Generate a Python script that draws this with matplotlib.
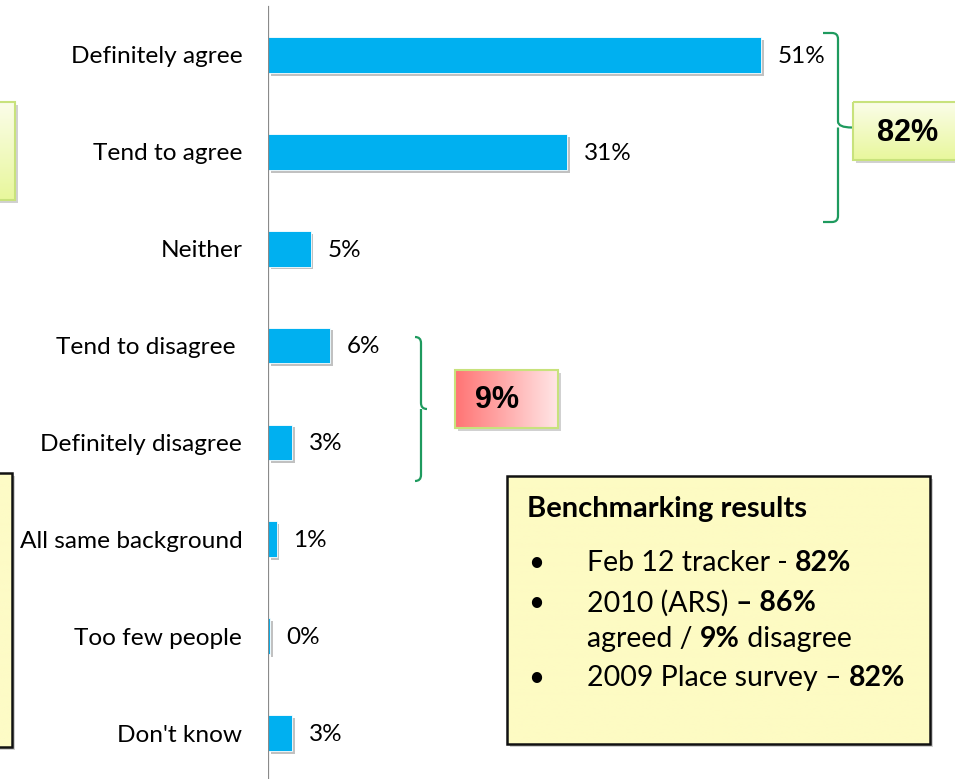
import matplotlib
matplotlib.use("Agg")
import matplotlib.pyplot as plt
import matplotlib.patheffects as pe
from matplotlib.patches import Rectangle, PathPatch
from matplotlib.path import Path
import numpy as np

categories = ["Definitely agree", "Tend to agree", "Neither", "Tend to disagree ",
              "Definitely disagree", "All same background", "Too few people", "Don't know"]
values = [51.0, 30.9, 4.4, 6.4, 2.5, 0.9, 0.2, 2.5]
value_labels = ["51%", "31%", "5%", "6%", "3%", "1%", "0%", "3%"]

agree_total = "82%"
disagree_total = "9%"
bench_title = "Benchmarking results"
bench_lines = [
    [("•", None), ("Feb 12 tracker - ", "normal"), ("82%", "bold")],
    [("•", None), ("2010 (ARS) ", "normal"), ("– 86%", "bold")],
    [(None, None), ("agreed / ", "normal"), ("9%", "bold"), (" disagree", "normal")],
    [("•", None), ("2009 Place survey – ", "normal"), ("82%", "bold")],
]

FONT = "Lato"
BAR = "#00b0f0"
GREEN = "#1e9a5e"

W, H = 955, 779
fig = plt.figure(figsize=(W / 100, H / 100), dpi=100)

# bar chart
ax = fig.add_axes([268 / W, 0, 1 - 268 / W, 1])
y = np.arange(len(categories))
bars = ax.barh(y, values, height=0.37, color=BAR, edgecolor="white", linewidth=0.6)
for b in bars:
    b.set_path_effects([pe.SimplePatchShadow(offset=(2, -2), shadow_rgbFace="#777777", alpha=0.45),
                        pe.Normal()])
ax.set_xlim(0, 71.0)
ax.set_ylim(7.474, -0.567)
ax.set_yticks(y)
ax.set_yticklabels(categories, fontsize=17.6, family=FONT)
ax.tick_params(axis="y", length=0, pad=18.5)
ax.set_xticks([])
for s in ax.spines.values():
    s.set_visible(False)
ax.axvline(0, ymin=0, ymax=(H - 7) / H, color="#8a8a8a", lw=1.6)
for i, (v, lab) in enumerate(zip(values, value_labels)):
    ax.annotate(lab, (v, i), xytext=(12, -1), textcoords="offset points",
                va="center", ha="left", fontsize=17.5, family=FONT)

# overlay in pixel coordinates for the callouts
ov = fig.add_axes([0, 0, 1, 1], zorder=5)
ov.set_xlim(0, W)
ov.set_ylim(H, 0)
ov.axis("off")
ov.patch.set_alpha(0)


def brace(x0, x1, ytop, ybot, tip):
    ym = (ytop + ybot) / 2
    r = 6
    verts = [(x0, ytop), (x1 - r, ytop), (x1, ytop), (x1, ytop + r),
             (x1, ym - r), (x1, ym), (tip, ym),
             (x1, ym), (x1, ym + r),
             (x1, ybot - r), (x1, ybot), (x1 - r, ybot), (x0, ybot)]
    codes = [Path.MOVETO, Path.LINETO, Path.CURVE3, Path.CURVE3,
             Path.LINETO, Path.CURVE3, Path.CURVE3,
             Path.MOVETO, Path.CURVE3,
             Path.LINETO, Path.CURVE3, Path.CURVE3, Path.LINETO]
    ov.add_patch(PathPatch(Path(verts, codes), fill=False, edgecolor=GREEN, lw=1.6))


def gradient_box(x0, y0, w, h, c0, c1, direction, edge, lw=1.5, shadow=True):
    if shadow:
        ov.add_patch(Rectangle((x0 + 3, y0 + 3), w, h, facecolor="#000000", alpha=0.18,
                               edgecolor="none", zorder=1))
    c0 = np.array(matplotlib.colors.to_rgb(c0))
    c1 = np.array(matplotlib.colors.to_rgb(c1))
    t = np.linspace(0, 1, 100)
    grad = c0[None, :] * (1 - t[:, None]) + c1[None, :] * t[:, None]
    if direction == "h":
        img = grad[None, :, :]
    else:
        img = grad[:, None, :]
    ov.imshow(img, extent=(x0, x0 + w, y0 + h, y0), aspect="auto", zorder=2,
              interpolation="bilinear")
    ov.add_patch(Rectangle((x0, y0), w, h, facecolor="none", edgecolor=edge, lw=lw, zorder=3))


brace(823, 838, 33, 222, 852)
brace(415, 421, 337, 481, 427)

gradient_box(853, 102, 110, 58, "#fbfde9", "#e8f79c", "v", "#c8e27c")
ov.text(908, 133, agree_total, ha="center", va="center", fontsize=22,
        fontweight="bold", family="Liberation Sans", zorder=4)

gradient_box(455, 370, 103, 58, "#ff7474", "#ffe6e6", "h", "#c8e27c")
ov.text(497, 400, disagree_total, ha="center", va="center", fontsize=22,
        fontweight="bold", family="Liberation Sans", zorder=4)

gradient_box(-10, 102, 25, 98, "#fbfde9", "#e8f79c", "v", "#c8e27c")
gradient_box(-10, 473, 22, 274, "#fdfbc6", "#fdfbc6", "v", "#111111", lw=1.8)

# benchmarking box
gradient_box(507, 476, 423, 268, "#fdfbc3", "#fdfbc3", "v", "#111111", lw=1.8)
ov.text(527, 509, bench_title, ha="left", va="center", fontsize=21,
        fontweight="bold", family=FONT, zorder=4)

fig.canvas.draw()
renderer = fig.canvas.get_renderer()
line_y = [563, 603, 639, 678]
for ly, parts in zip(line_y, bench_lines):
    bullet = parts[0][0]
    if bullet:
        ov.text(536, ly, bullet, ha="center", va="center", fontsize=20, family=FONT, zorder=4)
    x = 587
    for txt, weight in parts[1:]:
        t = ov.text(x, ly, txt, ha="left", va="center", fontsize=20.5, fontweight=weight,
                    family=FONT, zorder=4)
        x += t.get_window_extent(renderer).width

fig.savefig("out.png", dpi=100)
